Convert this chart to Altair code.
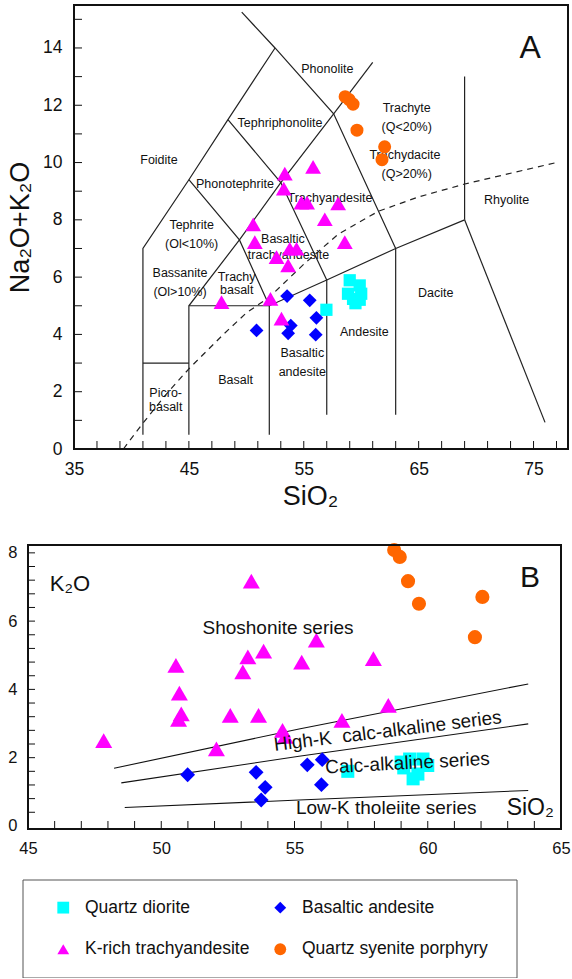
import altair as alt
import pandas as pd

FONT = "Liberation Sans"

# legend entries are laid out column by column
GROUPS = ["Quartz diorite", "K-rich trachyandesite", "Basaltic andesite", "Quartz syenite porphyry"]
COLORS = ["#00ffff", "#ff00ff", "#0000ff", "#ff6600"]
SHAPES = ["square", "triangle-up", "diamond", "circle"]
QD, KT, BA, QS = GROUPS

# ---------------- Panel A (TAS) samples ----------------
a_sq_x = [59.0, 59.87, 58.85, 59.29, 59.87, 60.0, 59.5, 56.97]
a_sq_y = [5.89, 5.71, 5.42, 5.24, 5.21, 5.42, 5.09, 4.86]
a_dia_x = [50.89, 53.55, 53.87, 53.64, 55.52, 56.1, 56.04]
a_dia_y = [4.14, 5.34, 4.31, 4.04, 5.19, 4.58, 3.99]
a_tri_x = [53.35, 53.26, 55.81, 54.8, 55.29, 57.99, 56.83, 58.57, 50.6, 50.74,
           52.63, 53.78, 54.37, 53.64, 47.84, 52.1, 53.06]
a_tri_y = [9.61, 9.09, 9.85, 8.6, 8.6, 8.57, 8.02, 7.22, 7.84, 7.22,
           6.7, 6.99, 6.99, 6.41, 5.13, 5.24, 4.55]
a_cir_x = [58.6, 58.95, 59.29, 59.63, 62.04, 61.81]
a_cir_y = [12.3, 12.2, 12.04, 11.13, 10.55, 10.1]

# ---------------- Panel B (K2O-SiO2) samples ----------------
b_sq_x = [57.0, 59.0, 59.32, 59.82, 60.0, 59.45, 59.63, 59.1]
b_sq_y = [1.6, 1.87, 1.96, 1.96, 1.77, 1.38, 1.52, 1.7]
b_dia_x = [50.99, 53.56, 53.9, 53.75, 55.48, 56.04, 56.01]
b_dia_y = [1.50, 1.57, 1.13, 0.76, 1.79, 1.94, 1.21]
b_tri_x = [47.84, 50.55, 50.68, 50.75, 50.65, 52.07, 52.59, 53.06, 53.25, 53.38,
           53.65, 53.84, 54.55, 54.65, 55.27, 55.82, 56.78, 57.96, 58.52]
b_tri_y = [2.50, 4.70, 3.89, 3.28, 3.12, 2.26, 3.24, 4.51, 4.95, 7.17,
           3.24, 5.12, 2.80, 2.62, 4.80, 5.44, 3.09, 4.90, 3.53]
b_cir_x = [58.74, 58.95, 59.26, 59.67, 62.05, 61.77]
b_cir_y = [8.08, 7.88, 7.17, 6.51, 6.71, 5.53]

# ---------------- TAS field boundaries ----------------
tas_lines = [
    [(41, 0.5), (41, 7), (45, 9.4), (48.4, 11.5), (52.5, 14)],
    [(49.6, 15.25), (52.5, 14), (57.6, 11.7), (63, 7)],
    [(48.4, 11.5), (53, 9.3), (57, 5.9)],
    [(45, 9.4), (49.4, 7.3), (52, 5)],
    [(49.4, 7.3), (53, 9.3), (57.6, 11.7)],
    [(45, 0.5), (45, 5), (49.4, 7.3)],
    [(41, 3), (45, 3)],
    [(45, 5), (52, 5), (57, 5.9), (63, 7), (69, 8)],
    [(52, 0.5), (52, 5)],
    [(57, 1.2), (57, 5.9)],
    [(63, 1.2), (63, 7)],
    [(69, 8), (69, 13)],
    [(69, 8), (76, 0.93)],
    [(57.6, 11.7), (61, 13.5)],
]
alk_x = [39.3, 41, 43, 45, 48, 50, 52, 55, 58, 61.5, 65, 69, 77]
alk_y = [0, 0.9, 1.9, 2.8, 4.0, 4.75, 5.3, 6.45, 7.5, 8.3, 8.8, 9.25, 10.0]

tas_labels = [
    ("Phonolite", 57.05, 13.25), ("Tephriphonolite", 52.93, 11.38),
    ("Trachyte", 63.96, 11.91), ("(Q<20%)", 63.96, 11.25),
    ("Trachydacite", 63.81, 10.26), ("(Q>20%)", 63.96, 9.61),
    ("Foidite", 42.4, 10.08), ("Phonotephrite", 49.01, 9.26),
    ("Tephrite", 45.24, 7.81), ("(Ol<10%)", 45.24, 7.17),
    ("Bassanite", 44.23, 6.15), ("(Ol>10%)", 44.23, 5.48),
    ("Trachy", 49.16, 6.01), ("basalt", 49.16, 5.54),
    ("Basaltic", 53.19, 7.33), ("trachyandesite", 53.67, 6.77),
    ("Trachyandesite", 57.28, 8.77), ("Rhyolite", 72.66, 8.68),
    ("Dacite", 66.48, 5.43), ("Andesite", 60.27, 4.08),
    ("Basaltic", 54.87, 3.34), ("andesite", 54.87, 2.69),
    ("Basalt", 49.07, 2.41), ("Picro-", 42.98, 1.94), ("basalt", 42.98, 1.48),
]

# ---------------- K2O series boundaries ----------------
k_lines = [
    [(48.23, 1.69), (55.17, 2.84), (63.77, 4.16)],
    [(48.5, 1.26), (55.17, 2.04), (63.77, 2.99)],
    [(48.63, 0.54), (55.17, 0.76), (63.77, 1.04)],
]

A_XDOM = [35, 78]
A_YDOM = [0, 15.5]
B_XDOM = [45, 65]
B_YDOM = [-0.09, 8.23]
A_XLABELS = [35, 45, 55, 65, 75]
A_YLABELS = [0, 2, 4, 6, 8, 10, 12, 14]
A_XTICKS = [37, 39, 41, 43, 45, 47, 49, 51, 53, 55, 57, 59, 61, 63, 65, 67, 69, 71, 73, 75, 77]
A_YTICKS = [1, 2, 3, 4, 5, 6, 7, 8, 9, 10, 11, 12, 13, 14, 15]
B_XLABELS = [45, 50, 55, 60, 65]
B_YLABELS = [0, 2, 4, 6, 8]
B_XTICKS = [46, 47, 48, 49, 50, 51, 52, 53, 54, 55, 56, 57, 58, 59, 60, 61, 62, 63, 64]
B_YTICKS = [0.4, 0.8, 1.2, 1.6, 2.0, 2.4, 2.8, 3.2, 3.6, 4.0, 4.4, 4.8, 5.2, 5.6, 6.0,
            6.4, 6.8, 7.2, 7.6, 8.0]

SIZE_A = {QD: 150, BA: 190, KT: 250, QS: 170}
SIZE_B = {QD: 170, BA: 220, KT: 290, QS: 200}

WA, HA = 494, 444
WB, HB = 533, 284


def points_df(series, sizes):
    rows = []
    for g, xs, ys in series:
        rows += [{"group": g, "x": x, "y": y, "sz": sizes[g]} for x, y in zip(xs, ys)]
    return pd.DataFrame(rows)


def lines_df(lines):
    rows = []
    for i, pts in enumerate(lines):
        for j, (x, y) in enumerate(pts):
            rows.append({"line": i, "order": j, "x": x, "y": y})
    return pd.DataFrame(rows)


def labels_df(labels):
    return pd.DataFrame([{"text": t, "x": x, "y": y} for t, x, y in labels])


def text_layer(df, xe, ye, **kw):
    return alt.Chart(df).mark_text(font=FONT, color="#111", **kw).encode(x=xe, y=ye, text="text:N")


def frame_layer(xdom, ydom, xe, ye):
    df = pd.DataFrame({"x": [xdom[0]], "x2": [xdom[1]], "y": [ydom[0]], "y2": [ydom[1]]})
    return alt.Chart(df).mark_rect(fill="transparent", stroke="#111", strokeWidth=2).encode(
        x=xe, x2="x2:Q", y=ye, y2="y2:Q")


def spacer(w):
    return alt.Chart(pd.DataFrame({"v": [0]})).mark_rule(opacity=0, strokeWidth=0).encode(
        x=alt.value(0), y=alt.value(0), y2=alt.value(1)).properties(
        width=w, height=1, view=alt.ViewBackground(stroke="transparent"))


# ================= Panel A =================
xA = alt.X("x:Q", scale=alt.Scale(domain=A_XDOM, nice=False, zero=False),
           axis=alt.Axis(values=A_XLABELS, ticks=False, domain=False, grid=False, labelFlush=False,
                         labelFontSize=17.5, labelPadding=11, labelColor="#111",
                         title="SiO₂", titleFontSize=27, titleFontWeight="normal", titleColor="#111",
                         titleX=236, titleY=55, titleBaseline="alphabetic"))
yA = alt.Y("y:Q", scale=alt.Scale(domain=A_YDOM, nice=False, zero=False),
           axis=alt.Axis(values=A_YLABELS, ticks=False, domain=False, grid=False,
                         labelFontSize=17.5, labelPadding=12, labelColor="#111",
                         title="Na₂O+K₂O", titleFontSize=27, titleFontWeight="normal", titleColor="#111",
                         titleAngle=270, titleX=-46, titleY=222, titleBaseline="alphabetic",
                         titleAlign="center"))

a_xt = alt.Chart(pd.DataFrame({"x": A_XTICKS})).mark_rule(color="#111", strokeWidth=1).encode(
    x=xA, y=alt.value(HA), y2=alt.value(HA - 8))
a_yt = alt.Chart(pd.DataFrame({"y": A_YTICKS})).mark_rule(color="#111", strokeWidth=1).encode(
    y=yA, x=alt.value(0), x2=alt.value(8))
a_lines = alt.Chart(lines_df(tas_lines)).mark_line(color="#222", strokeWidth=1.2, clip=True).encode(
    x=xA, y=yA, detail="line:N", order="order:Q")
a_dash = alt.Chart(pd.DataFrame({"x": alk_x, "y": alk_y, "order": list(range(len(alk_x)))})).mark_line(
    color="#222", strokeWidth=1.2, strokeDash=[6, 5], clip=True).encode(x=xA, y=yA, order="order:Q")
a_pts = alt.Chart(points_df([(QD, a_sq_x, a_sq_y), (BA, a_dia_x, a_dia_y),
                             (KT, a_tri_x, a_tri_y), (QS, a_cir_x, a_cir_y)], SIZE_A)
                  ).mark_point(filled=True, opacity=1, strokeWidth=0).encode(
    x=xA, y=yA,
    color=alt.Color("group:N", scale=alt.Scale(domain=GROUPS, range=COLORS), legend=None),
    shape=alt.Shape("group:N", scale=alt.Scale(domain=GROUPS, range=SHAPES), legend=None),
    size=alt.Size("sz:Q", scale=None, legend=None))
a_lab = text_layer(labels_df(tas_labels), xA, yA, fontSize=12.5, align="center", baseline="middle")
a_tag = text_layer(labels_df([("A", 73.78, 13.65)]), xA, yA, fontSize=32, align="left", baseline="alphabetic")

panelA = alt.layer(a_lines, a_dash, a_xt, a_yt, a_lab, a_pts, a_tag,
                   frame_layer(A_XDOM, A_YDOM, xA, yA)).properties(width=WA, height=HA)

# ================= Panel B =================
xB = alt.X("x:Q", scale=alt.Scale(domain=B_XDOM, nice=False, zero=False),
           axis=alt.Axis(values=B_XLABELS, ticks=False, domain=False, grid=False, labelFlush=False,
                         labelFontSize=16.5, labelPadding=11, labelColor="#111", title=None))
yB = alt.Y("y:Q", scale=alt.Scale(domain=B_YDOM, nice=False, zero=False),
           axis=alt.Axis(values=B_YLABELS, ticks=False, domain=False, grid=False,
                         labelFontSize=16.5, labelPadding=11, labelColor="#111", title=None))

b_xt = alt.Chart(pd.DataFrame({"x": B_XTICKS})).mark_rule(color="#111", strokeWidth=1).encode(
    x=xB, y=alt.value(HB), y2=alt.value(HB - 8))
b_yt = alt.Chart(pd.DataFrame({"y": B_YTICKS})).mark_rule(color="#111", strokeWidth=1).encode(
    y=yB, x=alt.value(0), x2=alt.value(7))
b_lines = alt.Chart(lines_df(k_lines)).mark_line(color="#111", strokeWidth=1.1).encode(
    x=xB, y=yB, detail="line:N", order="order:Q")

legend = alt.Legend(title=" ", titleOrient="right", titlePadding=10, titleFontSize=17,
                    orient="none", legendX=21.5, legendY=334.5, columns=2,
                    padding=19, symbolOffset=13, labelOffset=13, rowPadding=23, columnPadding=9,
                    labelFontSize=17.5, labelFont=FONT, labelColor="#111", labelLimit=400,
                    symbolSize=140, symbolStrokeWidth=0, strokeColor="#555")
b_pts = alt.Chart(points_df([(QD, b_sq_x, b_sq_y), (BA, b_dia_x, b_dia_y),
                             (KT, b_tri_x, b_tri_y), (QS, b_cir_x, b_cir_y)], SIZE_B)
                  ).mark_point(filled=True, opacity=1, strokeWidth=0).encode(
    x=xB, y=yB,
    color=alt.Color("group:N", scale=alt.Scale(domain=GROUPS, range=COLORS), legend=legend),
    shape=alt.Shape("group:N", scale=alt.Scale(domain=GROUPS, range=SHAPES), legend=legend),
    size=alt.Size("sz:Q", scale=None, legend=None))

b_k2o = text_layer(labels_df([("K₂O", 45.82, 6.88)]), xB, yB, fontSize=22, align="left", baseline="alphabetic")
b_tag = text_layer(labels_df([("B", 63.46, 7.0)]), xB, yB, fontSize=30, align="left", baseline="alphabetic")
b_si = text_layer(labels_df([("SiO₂", 62.96, 0.31)]), xB, yB, fontSize=23, align="left", baseline="alphabetic")
b_sho = text_layer(labels_df([("Shoshonite series", 54.38, 5.81)]), xB, yB, fontSize=19, align="center", baseline="middle")
b_hk = text_layer(labels_df([("High-K\u00a0 calc-alkaline series", 58.5, 2.78)]), xB, yB, fontSize=19,
                  align="center", baseline="middle", angle=353)
b_ca = text_layer(labels_df([("Calc-alkaline series", 59.24, 1.84)]), xB, yB, fontSize=19,
                  align="center", baseline="middle", angle=357)
b_lk = text_layer(labels_df([("Low-K tholeiite series", 58.44, 0.52)]), xB, yB, fontSize=19,
                  align="center", baseline="middle")

panelB = alt.layer(b_lines, b_xt, b_yt, b_pts, b_k2o, b_tag, b_si, b_sho, b_hk, b_ca, b_lk,
                   frame_layer(B_XDOM, B_YDOM, xB, yB)).properties(width=WB, height=HB)

# each panel is preceded by a small spacer so that the two panels can sit at different left offsets
rowA = alt.hconcat(spacer(3), panelA, spacing=0)
rowB = alt.hconcat(spacer(5), panelB, spacing=0)

chart = (
    alt.vconcat(rowA, rowB, spacing=32)
    .resolve_scale(color="independent", shape="independent")
    .properties(padding={"left": 0, "top": 3, "right": 0, "bottom": 0})
    .configure(font=FONT)
    .configure_view(stroke="transparent")
    .configure_axis(labelFont=FONT, titleFont=FONT)
)

chart.save("out.html", embed_options={"renderer": "svg", "actions": False})
